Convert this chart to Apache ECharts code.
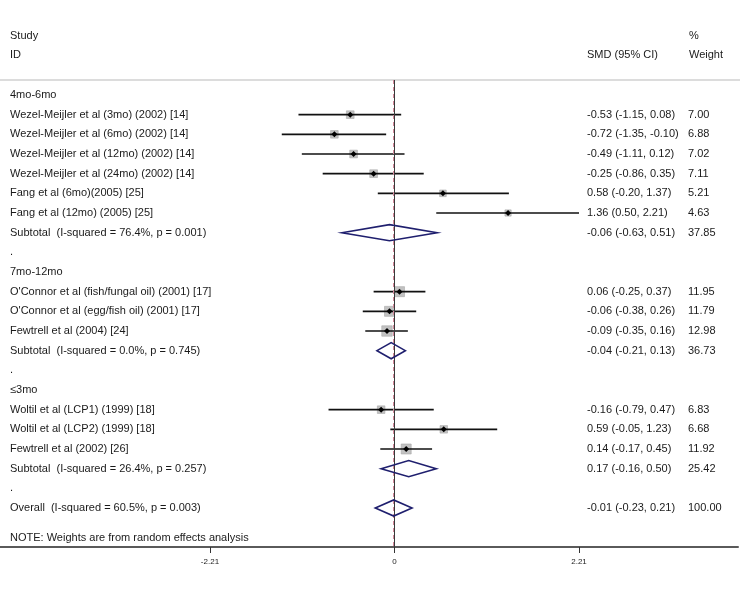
<!DOCTYPE html>
<html>
<head>
<meta charset="utf-8">
<script src="https://cdn.jsdelivr.net/npm/echarts@6/dist/echarts.min.js"></script>
<style>
html,body{margin:0;padding:0;background:#fff;}
#chart{width:740px;height:590px;}
</style>
</head>
<body>
<div id="chart"></div>
<script>
// ---------------- data ----------------
const groupNames = ['4mo-6mo', '7mo-12mo', '≤3mo'];
const studyNames = [
  'Wezel-Meijler et al (3mo) (2002) [14]',
  'Wezel-Meijler et al (6mo) (2002) [14]',
  'Wezel-Meijler et al (12mo) (2002) [14]',
  'Wezel-Meijler et al (24mo) (2002) [14]',
  'Fang et al (6mo)(2005) [25]',
  'Fang et al (12mo) (2005) [25]',
  "O'Connor et al (fish/fungal oil) (2001) [17]",
  "O'Connor et al (egg/fish oil) (2001) [17]",
  'Fewtrell et al (2004) [24]',
  'Woltil et al (LCP1) (1999) [18]',
  'Woltil et al (LCP2) (1999) [18]',
  'Fewtrell et al (2002) [26]'
];
const studyGroup = [0, 0, 0, 0, 0, 0, 1, 1, 1, 2, 2, 2];
const studySmd   = [-0.53, -0.72, -0.49, -0.25, 0.58, 1.36, 0.06, -0.06, -0.09, -0.16, 0.59, 0.14];
const studyLow   = [-1.15, -1.35, -1.11, -0.86, -0.20, 0.50, -0.25, -0.38, -0.35, -0.79, -0.05, -0.17];
const studyHigh  = [0.08, -0.10, 0.12, 0.35, 1.37, 2.21, 0.37, 0.26, 0.16, 0.47, 1.23, 0.45];
const studyWeight = [7.00, 6.88, 7.02, 7.11, 5.21, 4.63, 11.95, 11.79, 12.98, 6.83, 6.68, 11.92];

const subtotalLabels = [
  'Subtotal  (I-squared = 76.4%, p = 0.001)',
  'Subtotal  (I-squared = 0.0%, p = 0.745)',
  'Subtotal  (I-squared = 26.4%, p = 0.257)'
];
const subtotalSmd    = [-0.06, -0.04, 0.17];
const subtotalLow    = [-0.63, -0.21, -0.16];
const subtotalHigh   = [0.51, 0.13, 0.50];
const subtotalWeight = [37.85, 36.73, 25.42];

const overallLabel  = 'Overall  (I-squared = 60.5%, p = 0.003)';
const overallSmd    = -0.01;
const overallLow    = -0.23;
const overallHigh   = 0.21;
const overallWeight = 100.00;

const noteText = 'NOTE: Weights are from random effects analysis';
const axisTickValues = [-2.21, 0, 2.21];
const nullValue = 0;

// ---------------- build rows ----------------
const rows = [];
groupNames.forEach((g, gi) => {
  rows.push({kind: 'group', label: g});
  studyNames.forEach((n, i) => {
    if (studyGroup[i] === gi) {
      rows.push({kind: 'study', label: n, smd: studySmd[i], low: studyLow[i], high: studyHigh[i], weight: studyWeight[i]});
    }
  });
  rows.push({kind: 'pooled', label: subtotalLabels[gi], smd: subtotalSmd[gi], low: subtotalLow[gi], high: subtotalHigh[gi], weight: subtotalWeight[gi]});
  rows.push({kind: 'dot', label: '.'});
});
rows.push({kind: 'pooled', label: overallLabel, smd: overallSmd, low: overallLow, high: overallHigh, weight: overallWeight});
const noteRow = rows.length - 1 + 1.5;

const fmt = v => v.toFixed(2);
const textRows = rows.map((r, i) => ({
  row: i,
  label: r.label,
  ci: (r.kind === 'study' || r.kind === 'pooled') ? `${fmt(r.smd)} (${fmt(r.low)}, ${fmt(r.high)})` : '',
  w: (r.kind === 'study' || r.kind === 'pooled') ? fmt(r.weight) : ''
}));
textRows.push({row: noteRow, label: noteText, ci: '', w: ''});

const studyRows = rows.map((r, i) => ({...r, row: i})).filter(r => r.kind === 'study');
const pooledRows = rows.map((r, i) => ({...r, row: i})).filter(r => r.kind === 'pooled');

// ---------------- chart ----------------
const FONT = '"Liberation Sans", Arial, sans-serif';
const TXT = '#1a1a1a';
const chart = echarts.init(document.getElementById('chart'), null, {renderer: 'canvas'});

const option = {
  animation: false,
  backgroundColor: '#ffffff',
  grid: {left: 0, right: 2, top: 80, bottom: 43, containLabel: false},
  xAxis: {
    type: 'value',
    min: -4.7246, max: 4.1138,
    splitLine: {show: false},
    axisLine: {show: true, onZero: false, lineStyle: {color: '#5a5a5a', width: 2}},
    axisTick: {show: true, customValues: axisTickValues, length: 6, lineStyle: {color: '#333', width: 1}},
    axisLabel: {show: true, customValues: axisTickValues, fontSize: 8, color: '#222', fontFamily: FONT, margin: 11,
      formatter: v => (v === 0 ? '0' : String(v))}
  },
  yAxis: {
    type: 'value', inverse: true, min: -0.763, max: 22.983, show: false
  },
  graphic: [
    {type: 'line', shape: {x1: 0, y1: 80, x2: 740, y2: 80}, style: {stroke: '#dcdcdc', lineWidth: 2}, z: 0},
    {type: 'text', x: 10, y: 36, style: {text: 'Study', font: `11px ${FONT}`, fill: TXT, verticalAlign: 'middle'}},
    {type: 'text', x: 10, y: 55, style: {text: 'ID', font: `11px ${FONT}`, fill: TXT, verticalAlign: 'middle'}},
    {type: 'text', x: 587, y: 55, style: {text: 'SMD (95% CI)', font: `11px ${FONT}`, fill: TXT, verticalAlign: 'middle'}},
    {type: 'text', x: 689, y: 36, style: {text: '%', font: `11px ${FONT}`, fill: TXT, verticalAlign: 'middle'}},
    {type: 'text', x: 689, y: 55, style: {text: 'Weight', font: `11px ${FONT}`, fill: TXT, verticalAlign: 'middle'}}
  ],
  series: [
    // reference lines: overall estimate (dashed) then null line (solid)
    {
      type: 'line', data: [], silent: true, z: 1,
      markLine: {
        silent: true, symbol: 'none', label: {show: false},
        data: [
          {xAxis: overallSmd, lineStyle: {color: '#d48a9c', width: 2, type: [4, 3]}},
          {xAxis: nullValue, lineStyle: {color: '#3a3a3a', width: 1, type: 'solid'}}
        ]
      }
    },
    // CI lines
    {
      type: 'custom', silent: true, z: 3,
      data: studyRows.map(r => [r.low, r.row, r.high]),
      renderItem: (params, api) => {
        const a = api.coord([api.value(0), api.value(1)]);
        const b = api.coord([api.value(2), api.value(1)]);
        return {type: 'line', shape: {x1: a[0], y1: a[1], x2: b[0], y2: b[1]}, style: {stroke: '#111', lineWidth: 1.6}};
      }
    },
    // weight squares
    {
      type: 'scatter', silent: true, z: 2,
      symbol: 'rect',
      data: studyRows.map(r => [r.smd, r.row, r.weight]),
      symbolSize: v => 2.9 * Math.sqrt(v[2]),
      itemStyle: {color: '#c2c2c2', borderColor: '#a8a8a8', borderWidth: 0.6, opacity: 1}
    },
    // point estimates
    {
      type: 'scatter', silent: true, z: 4,
      symbol: 'diamond', symbolSize: 6,
      data: studyRows.map(r => [r.smd, r.row]),
      itemStyle: {color: '#000', opacity: 1}
    },
    // pooled diamonds
    {
      type: 'custom', silent: true, z: 5,
      data: pooledRows.map(r => [r.low, r.row, r.smd, r.high]),
      renderItem: (params, api) => {
        const row = api.value(1), h = 0.41;
        const p1 = api.coord([api.value(0), row]);
        const p2 = api.coord([api.value(2), row - h]);
        const p3 = api.coord([api.value(3), row]);
        const p4 = api.coord([api.value(2), row + h]);
        return {type: 'polygon', shape: {points: [p1, p2, p3, p4]},
          style: {fill: 'rgba(255,255,255,0)', stroke: '#1f1f6e', lineWidth: 1.6}};
      }
    },
    // text columns
    {
      type: 'custom', silent: true, z: 6,
      data: textRows.map(t => [0, t.row]),
      renderItem: (params, api) => {
        const t = textRows[params.dataIndex];
        const y = api.coord([0, api.value(1)])[1];
        const st = txt => ({text: txt, font: `11px ${FONT}`, fill: TXT, verticalAlign: 'middle', align: 'left'});
        return {type: 'group', children: [
          {type: 'text', x: 10, y: y, style: st(t.label)},
          {type: 'text', x: 587, y: y, style: st(t.ci)},
          {type: 'text', x: 688, y: y, style: st(t.w)}
        ]};
      }
    }
  ]
};
chart.setOption(option);
</script>
</body>
</html>
